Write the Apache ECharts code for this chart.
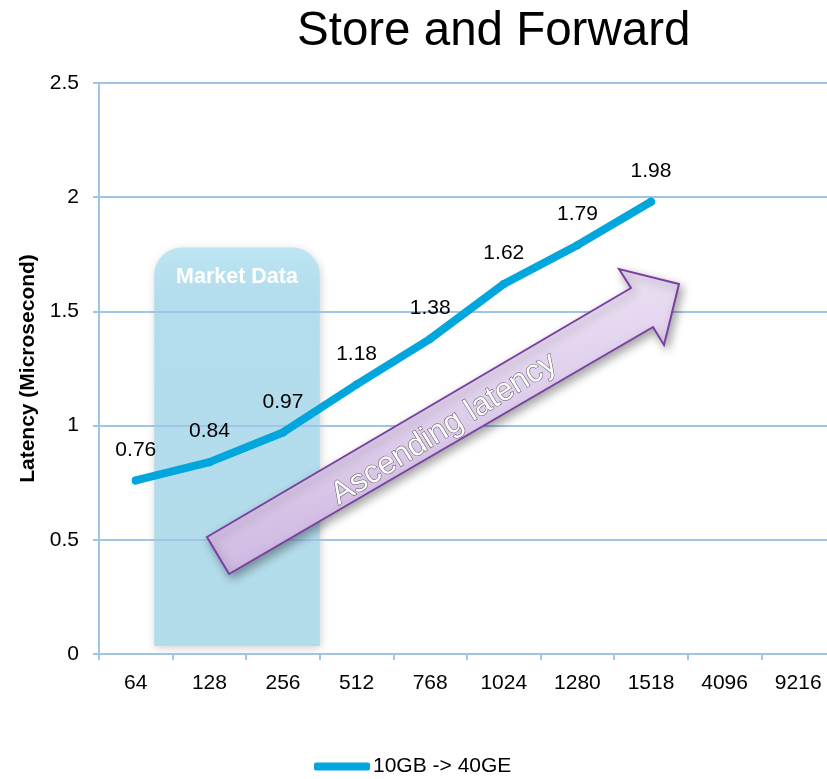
<!DOCTYPE html>
<html>
<head>
<meta charset="utf-8">
<title>Store and Forward</title>
<script src="https://cdn.jsdelivr.net/npm/echarts@6/dist/echarts.min.js"></script>
<style>
  html, body { margin: 0; padding: 0; background: #fff; overflow: hidden; }
  #chart { width: 840px; height: 779px; }
</style>
</head>
<body>
<div id="chart"></div>
<script>
// Frame sizes (bytes) on the category axis
const categories = ['64', '128', '256', '512', '768', '1024', '1280', '1518', '4096', '9216'];
// Store-and-forward latency in microseconds, 10GB -> 40GE
const latency = [0.76, 0.84, 0.97, 1.18, 1.38, 1.62, 1.79, 1.98];
const seriesName = '10GB -> 40GE';
// Value axis range
const yMin = 0, yMax = 2.5, yStep = 0.5;
// Highlighted "Market Data" band: category index span and value span
const marketFrom = 0.25, marketTo = 2.5;
const marketLow = 0.035, marketHigh = 1.78;

const FONT = '"Liberation Sans", Arial, Helvetica, sans-serif';
const GRID_BLUE = '#a0c4e6';

const chart = echarts.init(document.getElementById('chart'), null, { renderer: 'canvas' });

chart.setOption({
  backgroundColor: '#ffffff',
  animation: false,
  textStyle: { fontFamily: FONT },
  title: {
    text: 'Store and Forward',
    left: 292,
    top: 3,
    textStyle: { fontFamily: FONT, fontSize: 47.5, fontWeight: 'normal', color: '#000' }
  },
  legend: {
    left: 314,
    top: 756,
    padding: 0,
    itemWidth: 56,
    itemHeight: 8,
    icon: 'roundRect',
    textStyle: { fontFamily: FONT, fontSize: 21, color: '#000', padding: [0, 0, 0, -2] },
    data: [seriesName]
  },
  grid: { left: 99, top: 83, width: 736, height: 571, containLabel: false },
  xAxis: {
    type: 'category',
    data: categories,
    boundaryGap: true,
    axisLine: { lineStyle: { color: GRID_BLUE, width: 2 } },
    axisTick: { show: true, length: 6, lineStyle: { color: GRID_BLUE, width: 2 } },
    axisLabel: { fontFamily: FONT, fontSize: 21, color: '#000', margin: 19 },
    splitLine: { show: false }
  },
  yAxis: {
    type: 'value',
    min: yMin,
    max: yMax,
    interval: yStep,
    name: 'Latency (Microsecond)',
    nameLocation: 'middle',
    nameRotate: 90,
    nameGap: 54,
    nameTextStyle: { fontFamily: FONT, fontSize: 21, fontWeight: 'bold', color: '#000' },
    axisLine: { show: true, lineStyle: { color: GRID_BLUE, width: 2 } },
    axisTick: { show: true, length: 6, lineStyle: { color: GRID_BLUE, width: 2 } },
    axisLabel: { fontFamily: FONT, fontSize: 21, color: '#000', margin: 20 },
    splitLine: { show: true, lineStyle: { color: GRID_BLUE, width: 2 } }
  },
  series: [{
    name: seriesName,
    type: 'line',
    data: latency,
    z: 3,
    symbol: 'circle',
    symbolSize: 8,
    itemStyle: { color: '#00a6dc' },
    lineStyle: { color: '#00a6dc', width: 8, cap: 'round', join: 'round' },
    label: {
      show: true,
      position: 'top',
      distance: 16,
      fontFamily: FONT,
      fontSize: 21,
      color: '#000'
    },
    emphasis: { disabled: true }
  }]
});

// Annotation shapes placed from the axes' own scales
const xPix = i => chart.convertToPixel({ xAxisIndex: 0 }, i);
const yPix = v => chart.convertToPixel({ yAxisIndex: 0 }, v);
const band = xPix(1) - xPix(0);
const boxLeft = xPix(0) + band * marketFrom;
const boxRight = xPix(0) + band * marketTo;
const boxTop = yPix(marketHigh);
const boxBottom = yPix(marketLow);

chart.setOption({
  graphic: [
    {
      // shaded band sits beneath the grid lines
      type: 'rect',
      z: -1,
      shape: { x: boxLeft, y: boxTop, width: boxRight - boxLeft, height: boxBottom - boxTop, r: [28, 28, 0, 0] },
      style: {
        fill: {
          type: 'linear', x: 0, y: 0, x2: 0, y2: 1,
          colorStops: [
            { offset: 0, color: '#bde5f3' },
            { offset: 0.12, color: '#b3ddec' },
            { offset: 1, color: '#b2dcea' }
          ]
        },
        shadowBlur: 8,
        shadowOffsetX: 1,
        shadowOffsetY: 2,
        shadowColor: 'rgba(0, 0, 0, 0.18)'
      },
      silent: true
    },
    {
      type: 'text',
      z: 2,
      x: (boxLeft + boxRight) / 2,
      y: boxTop + 30,
      style: {
        text: 'Market Data',
        fill: '#ffffff',
        font: 'bold 21.5px ' + FONT,
        align: 'center',
        verticalAlign: 'middle',
        shadowBlur: 3,
        shadowOffsetX: 1,
        shadowOffsetY: 2,
        shadowColor: 'rgba(0, 0, 0, 0.3)'
      },
      silent: true
    },
    {
      type: 'polygon',
      z: 2,
      shape: {
        points: [[207, 537], [631, 288], [619, 269], [679, 284], [664, 345], [653, 327], [229, 574]]
      },
      style: {
        fill: {
          type: 'linear', x: 0, y: 0, x2: 0.15, y2: 1,
          colorStops: [
            { offset: 0, color: '#f6f1fa' },
            { offset: 0.5, color: '#e4d6ef' },
            { offset: 1, color: '#cdb6e0' }
          ]
        },
        stroke: '#7b3fa3',
        lineWidth: 2,
        lineJoin: 'miter',
        shadowBlur: 10,
        shadowOffsetX: 3,
        shadowOffsetY: 4,
        shadowColor: 'rgba(0, 0, 0, 0.35)'
      },
      silent: true
    },
    {
      type: 'text',
      z: 3,
      x: 444,
      y: 429,
      rotation: 32 * Math.PI / 180,
      style: {
        text: 'Ascending latency',
        font: '32px ' + FONT,
        fill: '#fbfbfb',
        stroke: 'rgba(60, 60, 60, 0.85)',
        lineWidth: 1,
        align: 'center',
        verticalAlign: 'middle',
        shadowBlur: 2,
        shadowOffsetX: 2,
        shadowOffsetY: 2,
        shadowColor: 'rgba(0, 0, 0, 0.6)'
      },
      silent: true
    }
  ]
});
</script>
</body>
</html>
